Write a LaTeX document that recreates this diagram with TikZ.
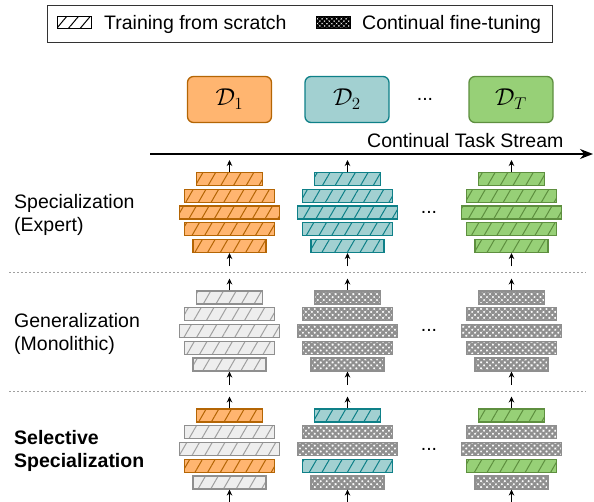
\RequirePackage{fix-cm}
\documentclass[tikz,border=0pt]{standalone}
\usepackage{graphicx}
\usepackage{fontspec}
\setmainfont{Liberation Sans}
\usetikzlibrary{patterns.meta,arrows.meta}
\definecolor{orF}{HTML}{FFB570}
\definecolor{orD}{HTML}{B46504}
\definecolor{teF}{HTML}{A2D0D1}
\definecolor{teD}{HTML}{0E8088}
\definecolor{grF}{HTML}{97D077}
\definecolor{grD}{HTML}{5E8F3F}
\definecolor{gyF}{HTML}{EEEEEE}
\definecolor{gyD}{HTML}{8F8F8F}
\definecolor{gyL}{HTML}{A0A0A0}
\newcommand\laystack[8]{%
 \node[#4,minimum width=66] (#1-1) at (#2,#3-33.5) {};
 \node[#5,minimum width=90] (#1-2) at (#2,#3-16.75) {};
 \node[#6,minimum width=100] (#1-3) at (#2,#3) {};
 \node[#7,minimum width=90] (#1-4) at (#2,#3+16.75) {};
 \node[#8,minimum width=73] (#1-5) at (#2,#3+33.5) {};
 \coordinate (#1-t) at (#2,#3-52.5);
 \coordinate (#1-b) at (#2,#3+54);
 \draw[sarr] (#1-1.north) -- (#1-t);
 \draw[sarr] (#1-b) -- (#1-5.south);
}
\newcommand\dlab[1]{\scalebox{1.25}{$\mathcal{D}_{#1}$}}
\begin{document}
\begin{tikzpicture}[x=1pt,y=-1pt,
 every node/.style={font=\fontsize{19.5}{23}\selectfont},
 blk/.style={draw, line width=1.1pt, minimum height=13, inner sep=0pt},
 hO/.style={blk, draw=orD, preaction={fill=orF}, pattern={Lines[angle=60,distance=11pt,line width=1pt]}, pattern color=orD},
 hT/.style={blk, draw=teD, preaction={fill=teF}, pattern={Lines[angle=60,distance=11pt,line width=1pt]}, pattern color=teD},
 hG/.style={blk, draw=grD, preaction={fill=grF}, pattern={Lines[angle=60,distance=11pt,line width=1pt]}, pattern color=grD},
 hX/.style={blk, draw=gyD, preaction={fill=gyF}, pattern={Lines[angle=60,distance=11pt,line width=1pt]}, pattern color=gyL},
 cX/.style={blk, draw=gyD, preaction={fill=white}, pattern={Hatch[angle=45,distance=4.2pt,line width=2.3pt]}, pattern color=gyD},
 dbox/.style={draw, rounded corners=6pt, line width=1.3pt, minimum width=84, minimum height=46, inner sep=0pt},
 sarr/.style={-{Stealth[length=6pt,width=5.5pt]}, line width=0.9pt},
 sep/.style={draw=gyL, line width=1pt, dash pattern=on 2pt off 2pt},
 lbl/.style={anchor=base west, inner sep=0pt}
]
\useasboundingbox (0,0) rectangle (594,502);
% legend
\node[draw=black!80, line width=1.1pt, minimum width=505, minimum height=37, inner sep=0pt] (legend) at (300,24) {};
\node[draw=black, line width=1pt, minimum width=34, minimum height=12, inner sep=0pt, preaction={fill=white}, pattern={Lines[angle=50,distance=9pt,line width=1pt]}, pattern color=black] (lg1) at (74.5,22.5) {};
\node[lbl] (lt1) at (104,30) {Training from scratch};
\node[draw=black, line width=1pt, minimum width=34, minimum height=12, inner sep=0pt, preaction={fill=white}, pattern={Hatch[angle=45,distance=3.4pt,line width=2pt]}, pattern color=black] (lg2) at (333,22.5) {};
\node[lbl] (lt2) at (362,30) {Continual fine-tuning};
% data boxes
\node[dbox, fill=orF, draw=orD] (d1) at (229.5,99.5) {\dlab{1}};
\node[dbox, fill=teF, draw=teD] (d2) at (347,99.5) {\dlab{2}};
\node[dbox, fill=grF, draw=grD] (dT) at (511,99.5) {\dlab{T}};
\node[anchor=base, inner sep=0pt] (ddots) at (425,101) {...};
% stream
\coordinate (s0) at (150,154);
\coordinate (s1) at (593,154);
\draw[line width=1.5pt, -{Stealth[length=13pt,width=10pt]}] (s0) -- (s1);
\node[lbl] (stream) at (367,148) {Continual Task Stream};
% row labels
\node[lbl] (r1a) at (14,209) {Specialization};
\node[lbl] (r1b) at (14,232) {(Expert)};
\node[lbl] (r2a) at (14,328) {Generalization};
\node[lbl] (r2b) at (14,351) {(Monolithic)};
\node[lbl, font=\fontsize{19.5}{23}\selectfont\bfseries] (r3a) at (14,444) {Selective};
\node[lbl, font=\fontsize{19.5}{23}\selectfont\bfseries] (r3b) at (14,467) {Specialization};
% separators
\coordinate (l1a) at (9,273); \coordinate (l1b) at (586,273);
\coordinate (l2a) at (9,391); \coordinate (l2b) at (586,391);
\draw[sep] (l1a) -- (l1b);
\draw[sep] (l2a) -- (l2b);
% stacks: row 1
\laystack{sa}{229.5}{212.5}{hO}{hO}{hO}{hO}{hO}
\laystack{sb}{347.5}{212.5}{hT}{hT}{hT}{hT}{hT}
\laystack{sc}{511.5}{212.5}{hG}{hG}{hG}{hG}{hG}
% row 2
\laystack{ga}{229.5}{331}{hX}{hX}{hX}{hX}{hX}
\laystack{gb}{347.5}{331}{cX}{cX}{cX}{cX}{cX}
\laystack{gc}{511.5}{331}{cX}{cX}{cX}{cX}{cX}
% row 3
\laystack{xa}{229.5}{449}{hO}{hX}{hX}{hO}{hX}
\laystack{xb}{347.5}{449}{hT}{cX}{cX}{hT}{cX}
\laystack{xc}{511.5}{449}{hG}{cX}{cX}{hG}{cX}
% dots
\node[anchor=base, inner sep=0pt] (dots1) at (429,214) {...};
\node[anchor=base, inner sep=0pt] (dots2) at (429,332) {...};
\node[anchor=base, inner sep=0pt] (dots3) at (429,450) {...};
\end{tikzpicture}
\end{document}
